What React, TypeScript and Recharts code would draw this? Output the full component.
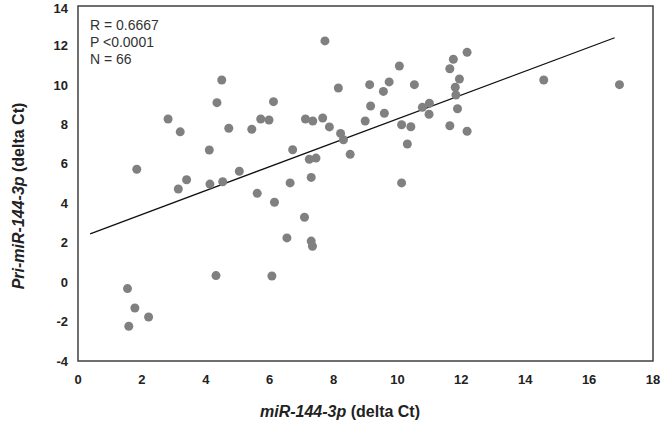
import React from 'react';
import { ScatterChart, Scatter, XAxis, YAxis, ReferenceLine, ReferenceArea, Label } from 'recharts';

const xValues = [1.55, 1.78, 2.21, 1.59, 4.32, 6.07, 1.84, 3.14, 3.40, 4.11, 4.13, 4.53, 5.05, 3.20, 4.72, 2.82, 4.35, 4.50, 5.44, 5.72, 5.98, 6.12, 7.12, 7.35, 7.66, 7.87, 7.73, 8.15, 8.22, 8.99, 9.13, 9.16, 9.56, 9.74, 9.59, 10.06, 10.13, 10.42, 10.53, 10.78, 11.0, 10.99, 11.64, 11.75, 11.64, 11.81, 11.94, 11.88, 11.83, 12.18, 14.58, 16.95, 5.61, 6.15, 6.72, 6.64, 7.24, 7.45, 7.30, 7.09, 6.54, 7.30, 7.34, 8.31, 8.52, 10.31, 10.13, 12.18];
const yValues = [-0.33, -1.31, -1.77, -2.24, 0.33, 0.31, 5.72, 4.72, 5.19, 6.70, 4.97, 5.09, 5.62, 7.62, 7.80, 8.27, 9.10, 10.25, 7.75, 8.27, 8.22, 9.15, 8.27, 8.17, 8.32, 7.87, 12.23, 9.84, 7.54, 8.17, 10.01, 8.93, 9.67, 10.15, 8.56, 10.96, 7.98, 7.88, 10.01, 8.86, 9.07, 8.51, 10.82, 11.30, 7.93, 9.88, 10.30, 8.79, 9.49, 7.65, 10.25, 10.01, 4.50, 4.05, 6.71, 5.03, 6.23, 6.29, 5.31, 3.29, 2.24, 2.08, 1.82, 7.22, 6.48, 7.00, 5.03, 11.65];

const trendStart = [0.38, 2.45];
const trendEnd = [16.8, 12.39];

const xTicks = [0, 2, 4, 6, 8, 10, 12, 14, 16, 18];
const yTicks = [-4, -2, 0, 2, 4, 6, 8, 10, 12, 14];
const statsLines = ['R = 0.6667', 'P <0.0001', 'N = 66'];

const data = xValues.map((x, i) => ({ x, y: yValues[i] }));

const FONT = '"Liberation Sans", Arial, sans-serif';

const Dot = (props: any) => <circle cx={props.cx} cy={props.cy} r={4.5} fill="#808080" />;

export default function App() {
  return (
    <div style={{ position: 'absolute', left: 0, top: 0, fontFamily: FONT }}>
      <ScatterChart width={664} height={434} margin={{ top: 6, right: 11, left: 0, bottom: 0 }}>
        <XAxis
          type="number"
          dataKey="x"
          domain={[0, 18]}
          ticks={xTicks}
          tickLine={false}
          axisLine={false}
          height={73}
          tickMargin={8}
          tick={{ fill: '#222', fontSize: 13, fontWeight: 'bold', fontFamily: FONT }}
        >
          <Label
            content={() => (
              <text x={340} y={417} textAnchor="middle" fontFamily={FONT} fontSize={16} fontWeight="bold" fill="#222">
                <tspan fontStyle="italic">miR-144-3p</tspan>
                <tspan> (delta Ct)</tspan>
              </text>
            )}
          />
        </XAxis>
        <YAxis
          type="number"
          dataKey="y"
          domain={[-4, 14]}
          ticks={yTicks}
          tickLine={false}
          axisLine={false}
          width={78}
          tickMargin={4}
          tick={{ fill: '#222', fontSize: 13, fontWeight: 'bold', fontFamily: FONT }}
        >
          <Label
            content={() => (
              <text
                x={0}
                y={0}
                transform="translate(24,196) rotate(-90)"
                textAnchor="middle"
                fontFamily={FONT}
                fontSize={16}
                fontWeight="bold"
                fill="#222"
              >
                <tspan fontStyle="italic">Pri-miR-144-3p</tspan>
                <tspan> (delta Ct)</tspan>
              </text>
            )}
          />
        </YAxis>
        <ReferenceArea x1={0} x2={18} y1={-4} y2={14} fill="none" fillOpacity={0} stroke="#404040" strokeWidth={1.5} />
        <ReferenceLine
          segment={[{ x: trendStart[0], y: trendStart[1] }, { x: trendEnd[0], y: trendEnd[1] }]}
          stroke="#111"
          strokeWidth={1.3}
        />
        <Scatter data={data} shape={Dot} isAnimationActive={false} />
        <Label content={() => null} />
        {statsLines.map((t, i) => (
          <ReferenceLine key={i} stroke="none" y={14} label={() => (
            <text x={90} y={30 + i * 17} fontFamily={FONT} fontSize={14} fill="#333">{t}</text>
          )} />
        ))}
      </ScatterChart>
    </div>
  );
}
